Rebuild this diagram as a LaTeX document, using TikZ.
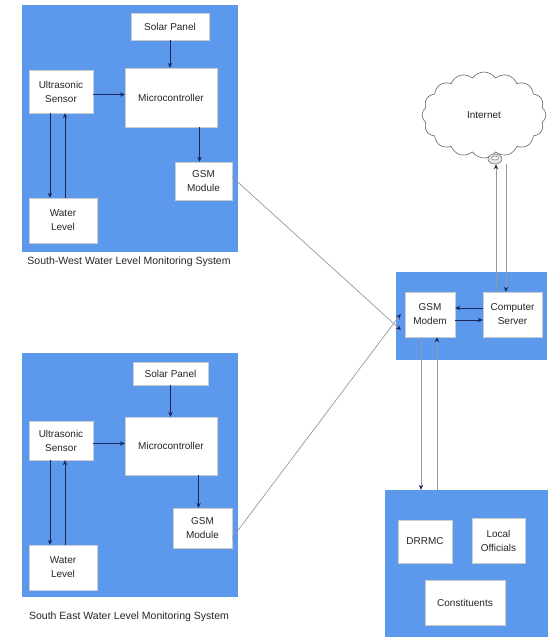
\documentclass[tikz,border=0pt]{standalone}
\usepackage{fontspec}
\setmainfont{Liberation Sans}
\usetikzlibrary{arrows.meta,shapes.symbols,shapes.geometric}
\definecolor{panelblue}{RGB}{92,152,236}
\definecolor{arrowc}{RGB}{25,40,90}
\definecolor{glinec}{RGB}{150,150,160}
\begin{document}
\begin{tikzpicture}[x=1pt,y=-1pt,
  panel/.style={fill=panelblue, draw=none, inner sep=0pt},
  box/.style={fill=white, draw=black!20, line width=0.4pt, align=center, inner sep=0pt,
     font=\fontsize{10}{14}\selectfont, text=black!85},
  captext/.style={font=\fontsize{10.5}{12}\selectfont, text=black!85, inner sep=0pt},
  darr/.style={draw=arrowc, line width=0.75pt, -{Stealth[length=5pt,width=4.5pt]}},
  garr/.style={draw=glinec, line width=0.7pt, -{Stealth[length=5pt,width=4.5pt,color=arrowc]}}
]
\useasboundingbox (0,0) rectangle (550,641);

% ---- South-West panel ----
\node[panel, minimum width=216, minimum height=247] (swp) at (130,128.5) {};
\node[box, minimum width=78, minimum height=27] (sws) at (170,26.5) {Solar Panel};
\node[box, minimum width=92, minimum height=59] (swm) at (171,97.5) {Microcontroller};
\node[box, minimum width=64, minimum height=43] (swu) at (61,91.5) {Ultrasonic\\Sensor};
\node[box, minimum width=57, minimum height=38] (swg) at (203.5,181) {GSM\\Module};
\node[box, minimum width=68, minimum height=45] (swl) at (63,220.5) {Water\\Level};
\node[captext] (swc) at (129,262) {South-West Water Level Monitoring System};

\draw[darr] (sws.south) -- (sws.south |- swm.north);
\draw[darr] ([yshift=-3]swu.east) -- ([yshift=-3]swu.east -| swm.west);
\draw[darr] ([xshift=-4]swg.north |- swm.south) -- ([xshift=-4]swg.north);
\draw[darr] ([xshift=-11]swu.south) -- ([xshift=-11]swu.south |- swl.north);
\draw[darr] ([xshift=4]swu.south |- swl.north) -- ([xshift=4]swu.south);

% ---- South-East panel ----
\node[panel, minimum width=216, minimum height=244] (sep) at (130,475) {};
\node[box, minimum width=75, minimum height=23] (ses) at (170.5,373.5) {Solar Panel};
\node[box, minimum width=92, minimum height=58] (sem) at (171,446) {Microcontroller};
\node[box, minimum width=64, minimum height=39] (seu) at (61,440.5) {Ultrasonic\\Sensor};
\node[box, minimum width=59, minimum height=40] (seg) at (202.5,528) {GSM\\Module};
\node[box, minimum width=68, minimum height=45] (sel) at (63,567.5) {Water\\Level};
\node[captext] (sec) at (129,617) {South East Water Level Monitoring System};

\draw[darr] (ses.south) -- (ses.south |- sem.north);
\draw[darr] ([yshift=-3]seu.east) -- ([yshift=-3]seu.east -| sem.west);
\draw[darr] ([xshift=-4]seg.north |- sem.south) -- ([xshift=-4]seg.north);
\draw[darr] ([xshift=-11]seu.south) -- ([xshift=-11]seu.south |- sel.north);
\draw[darr] ([xshift=4]seu.south |- sel.north) -- ([xshift=4]seu.south);

% ---- Central panel ----
\node[panel, minimum width=151, minimum height=88] (cp) at (471.5,316) {};
\node[box, minimum width=50, minimum height=45] (mod) at (430,314.5) {GSM\\Modem};
\node[box, minimum width=59, minimum height=45] (srv) at (512.5,314.5) {Computer\\Server};

\draw[darr] ([yshift=-5.5]mod.east) -- ([yshift=-5.5]mod.east -| srv.west);
\draw[darr] ([yshift=6.5]srv.west) -- ([yshift=6.5]srv.west -| mod.east);

% ---- Internet cloud ----
\node[cloud, draw=black!60, line width=0.6pt, fill=white, cloud puffs=16, cloud puff arc=110,
      minimum width=124, minimum height=86, inner sep=0pt,
      font=\fontsize{10}{12}\selectfont, text=black!85] (net) at (484,115) {Internet};
\node[ellipse, draw=black!60, fill=black!10, line width=0.5pt, minimum width=14, minimum height=10, inner sep=0pt] (ico) at (495,159) {};
\node[ellipse, draw=black!60, fill=white, line width=0.4pt, minimum width=7, minimum height=4, inner sep=0pt] (icoin) at (495,158) {};

\draw[garr] ([xshift=-16.5]srv.north) -- ([xshift=-16.5]srv.north |- ico.south);
\draw[garr] ([xshift=-6.5]srv.north |- ico.south) -- ([xshift=-6.5]srv.north);

% ---- Bottom-right panel ----
\node[panel, minimum width=163, minimum height=147] (rb) at (466.5,563.5) {};
\node[box, minimum width=54, minimum height=43] (drr) at (425,541.5) {DRRMC};
\node[box, minimum width=53, minimum height=45] (loc) at (498.5,540.5) {Local\\Officials};
\node[box, minimum width=80, minimum height=45] (con) at (465,602.5) {Constituents};

\draw[garr] ([xshift=-9]mod.south) -- ([xshift=-9]mod.south |- rb.north);
\draw[garr] ([xshift=7]mod.south |- rb.north) -- ([xshift=7]mod.south);

% ---- links from GSM modules ----
\coordinate (in1) at ([yshift=-14]cp.west);
\coordinate (in2) at ([yshift=2]cp.west);
\draw[garr] ([yshift=4]swg.east) -- ([xshift=5]in1);
\draw[garr] ([yshift=-10]seg.east) -- ([xshift=5]in2);
\end{tikzpicture}
\end{document}
